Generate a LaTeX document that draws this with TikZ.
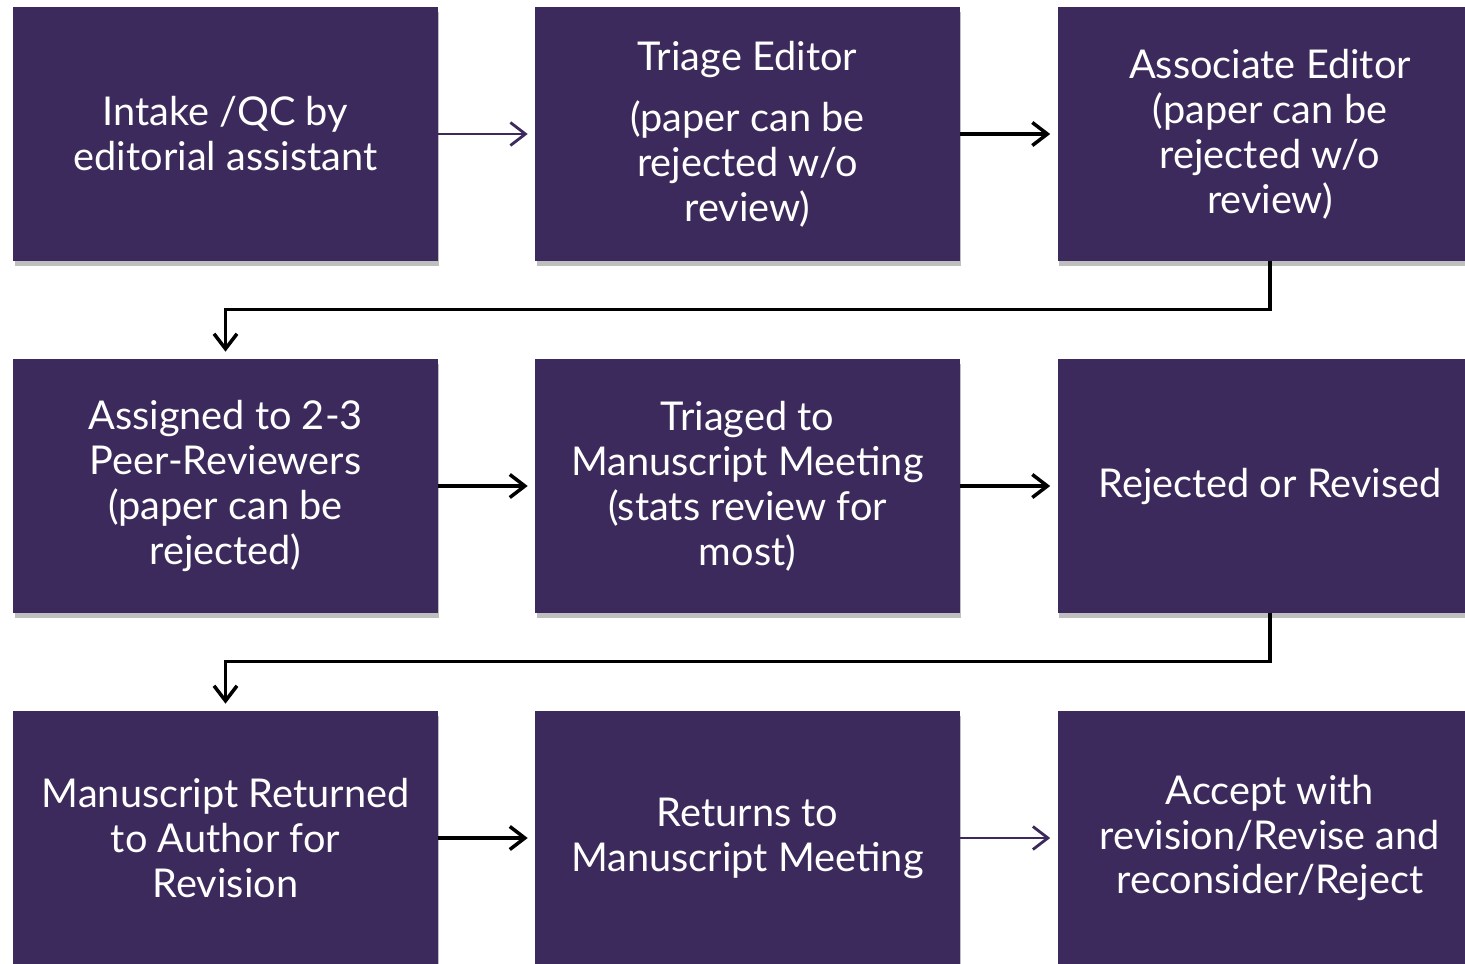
\documentclass[tikz,border=0pt]{standalone}
\usepackage{fontspec}
\setmainfont{Lato}
\usepackage{tikz}
\usetikzlibrary{arrows.meta, shadows}

\definecolor{plum}{HTML}{3C2A5C}

\begin{document}
\begin{tikzpicture}[x=0.02cm, y=-0.02cm,
stage/.style={fill=plum, text=white, align=center, minimum width=8.5cm, minimum height=5.08cm,
  inner sep=0pt, font=\fontsize{22.6}{25.6}\selectfont,
  drop shadow={shadow xshift=0.03cm, shadow yshift=-0.1cm, fill=black, opacity=0.25}},
flow/.style={draw=black, line width=2pt, -{Straight Barb[length=0.3cm, width=0.46cm, line width=2pt]}, shorten >=0.14cm},
thinflow/.style={draw=plum, line width=1.2pt, -{Straight Barb[length=0.3cm, width=0.46cm, line width=1.6pt]}, shorten >=0.14cm}
]
\useasboundingbox (0,0) rectangle (1465,964);
\clip (0,0) rectangle (1465,964);

% Ligne 1
\node[stage] (intake) at (225.5,134) {Intake /QC by\\editorial assistant};
\node[stage] (triage) at (747.5,134) {Triage Editor\\[0.32cm](paper can be\\rejected w/o\\review)};
\node[stage] (assoc) at (1270,134) {Associate Editor\\(paper can be\\rejected w/o\\review)};

% Ligne 2
\node[stage] (assigned) at (225.5,486) {Assigned to 2-3\\Peer-Reviewers\\(paper can be\\rejected)};
\node[stage] (msmeet) at (747.5,486) {Triaged to\\Manuscript Meeting\\(stats review for\\most)};
\node[stage] (rejrev) at (1270,486) {Rejected or Revised};

% Ligne 3
\node[stage] (returned) at (225.5,838) {Manuscript Returned\\to Author for\\Revision};
\node[stage] (returns) at (747.5,838) {Returns to\\Manuscript Meeting};
\node[stage] (accept) at (1270,838) {Accept with\\revision/Revise and\\reconsider/Reject};

% Connexions
\draw[thinflow] (intake)--(triage);
\draw[flow] (triage)--(assoc);
\draw[flow] (assoc.south)--++(0,48)-|(assigned.north);

\draw[flow] (assigned)--(msmeet);
\draw[flow] (msmeet)--(rejrev);
\draw[flow] (rejrev.south)--++(0,48)-|(returned.north);

\draw[flow] (returned)--(returns);
\draw[thinflow] (returns)--(accept);

\end{tikzpicture}
\end{document}
